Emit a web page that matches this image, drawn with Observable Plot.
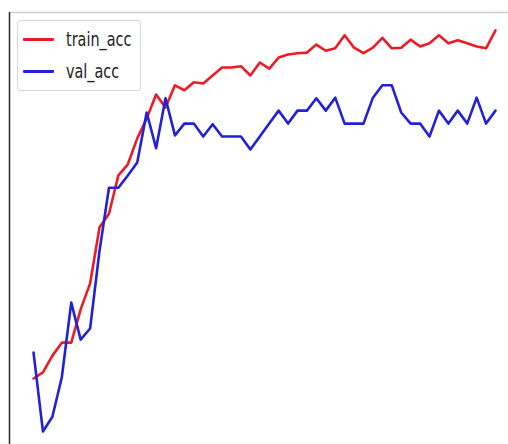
<!DOCTYPE html>
<html>
<head>
<meta charset="utf-8">
<script src="https://cdn.jsdelivr.net/npm/d3@7"></script>
<script src="https://cdn.jsdelivr.net/npm/@observablehq/plot@0.6"></script>
<style>
  html, body { margin: 0; padding: 0; background: #fff; }
  #wrap { position: relative; width: 508px; height: 444px; overflow: hidden; }
  #legend {
    position: absolute; left: 17px; top: 20px; width: 124px; height: 71px;
    border: 1px solid #d8d8d8; border-radius: 3px; background: rgba(255,255,255,0.85);
    box-sizing: border-box;
  }
  .row { position: absolute; left: 0; height: 24px; width: 100%; }
  .swatch { position: absolute; left: 5px; width: 31px; height: 3px; border-radius: 1px; }
  .lbl {
    position: absolute; left: 48px; font-family: "DejaVu Sans", sans-serif; font-size: 20px;
    line-height: 24px; color: #222; transform: scaleX(0.72); transform-origin: left center;
    white-space: nowrap;
  }
</style>
</head>
<body>
<div id="wrap"></div>
<script>
// Training history: accuracy per epoch
const epochs = d3.range(50);
const trainAcc = [
  0.387, 0.397, 0.424, 0.445, 0.445, 0.499, 0.541, 0.632, 0.654, 0.716,
  0.734, 0.776, 0.808, 0.847, 0.826, 0.862, 0.854, 0.867, 0.865, 0.878,
  0.891, 0.891, 0.893, 0.878, 0.899, 0.889, 0.907, 0.912, 0.914, 0.915,
  0.928, 0.918, 0.922, 0.943, 0.923, 0.914, 0.923, 0.939, 0.922, 0.923,
  0.936, 0.925, 0.930, 0.943, 0.930, 0.935, 0.930, 0.925, 0.922, 0.951
];
const valAcc = [
  0.429, 0.301, 0.325, 0.389, 0.510, 0.450, 0.468, 0.594, 0.696, 0.696,
  0.716, 0.737, 0.818, 0.760, 0.841, 0.781, 0.800, 0.800, 0.779, 0.799,
  0.779, 0.779, 0.779, 0.758, 0.779, 0.800, 0.821, 0.800, 0.821, 0.821,
  0.841, 0.821, 0.842, 0.800, 0.800, 0.800, 0.842, 0.862, 0.862, 0.818,
  0.800, 0.800, 0.779, 0.821, 0.800, 0.821, 0.800, 0.842, 0.800, 0.821
];
const seriesNames = ["train_acc", "val_acc"];
const seriesColors = ["#ec1c26", "#2222d4"];

const rows = epochs.flatMap((e, i) => [
  {epoch: e, acc: trainAcc[i], series: seriesNames[0]},
  {epoch: e, acc: valAcc[i], series: seriesNames[1]}
]);

const xDomain = [-2.55, 50.38];
const yDomain = [0.28, 0.98];

const chart = Plot.plot({
  width: 508,
  height: 444,
  marginLeft: 9,
  marginRight: 0,
  marginTop: 12,
  marginBottom: 0,
  x: {domain: xDomain, axis: null},
  y: {domain: yDomain, axis: null},
  color: {domain: seriesNames, range: seriesColors},
  marks: [
    Plot.ruleY([yDomain[1]], {stroke: "#cfcfcf", strokeWidth: 1.5}),
    Plot.ruleX([xDomain[0]], {stroke: "#2a2a2a", strokeWidth: 1.5}),
    Plot.line(rows, {x: "epoch", y: "acc", z: "series", stroke: "series", strokeWidth: 2.6, strokeLinejoin: "round"})
  ]
});

const wrap = document.getElementById("wrap");
wrap.appendChild(chart);

// Legend box in the upper-left corner of the axes
const legend = document.createElement("div");
legend.id = "legend";
seriesNames.forEach((name, i) => {
  const row = document.createElement("div");
  row.className = "row";
  row.style.top = (6 + i * 32) + "px";
  const sw = document.createElement("div");
  sw.className = "swatch";
  sw.style.top = "10.5px";
  sw.style.background = seriesColors[i];
  const lbl = document.createElement("div");
  lbl.className = "lbl";
  lbl.style.top = "0px";
  lbl.textContent = name;
  row.appendChild(sw);
  row.appendChild(lbl);
  legend.appendChild(row);
});
wrap.appendChild(legend);
</script>
</body>
</html>
